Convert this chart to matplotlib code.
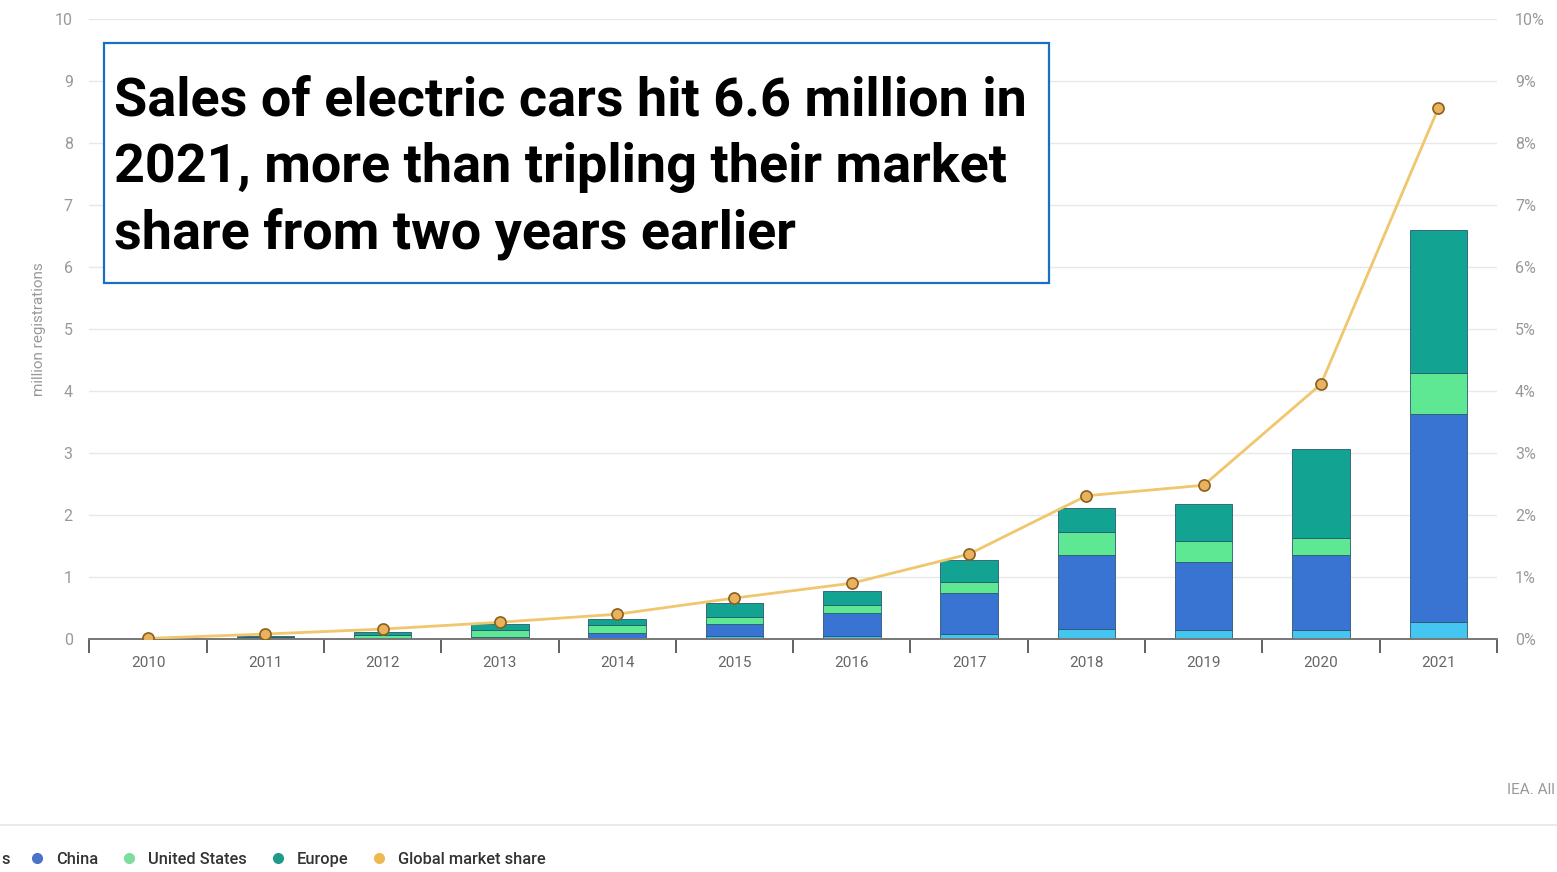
#Gráfica de ventas de autos eléctricos (IEA)
import matplotlib
matplotlib.use("Agg")
import matplotlib.pyplot as plt
from matplotlib.patches import Rectangle
from matplotlib.lines import Line2D
import numpy as np

#Datos
years = ["2010", "2011", "2012", "2013", "2014", "2015", "2016", "2017", "2018", "2019", "2020", "2021"]
others = [0.003, 0.01, 0.01, 0.02, 0.02, 0.05, 0.05, 0.08, 0.16, 0.15, 0.15, 0.27]
china = [0.001, 0.005, 0.01, 0.02, 0.08, 0.19, 0.37, 0.67, 1.19, 1.09, 1.20, 3.36]
usa = [0.001, 0.02, 0.05, 0.10, 0.12, 0.12, 0.13, 0.17, 0.38, 0.34, 0.28, 0.66]
europe = [0.001, 0.015, 0.04, 0.10, 0.10, 0.22, 0.23, 0.35, 0.38, 0.60, 1.43, 2.31]
share = [0.01, 0.08, 0.16, 0.27, 0.40, 0.66, 0.90, 1.37, 2.31, 2.48, 4.11, 8.56]

series_names = ["China", "United States", "Europe", "Global market share"]
series_colors = ["#45c6f0", "#3a74d2", "#5fe893", "#13a393"]
legend_colors = ["#4a72c8", "#7edc9c", "#1f9a8a", "#efb952"]
line_color = "#f0c66e"

plt.rcParams['font.family'] = ['Roboto', 'DejaVu Sans']

fig = plt.figure(figsize=(15.57, 8.72), dpi=100)
ax = fig.add_axes([0.0574, 0.2672, 0.904, 0.711])

x = np.arange(len(years))
bottom = np.zeros(len(years))
for vals, col in zip([others, china, usa, europe], series_colors):
	ax.bar(x, vals, width=0.49, bottom=bottom, color=col,
		   edgecolor="#2a5a70", linewidth=0.6, zorder=2)
	bottom += np.array(vals)

ax.set_xlim(-0.5, len(years) - 0.5)
ax.set_ylim(0, 10)
ax.set_yticks(range(0, 11))
ax.set_xticks(x)
ax.set_xticklabels(years)
ax.set_xticks(np.arange(-0.5, len(years), 1.0), minor=True)
ax.tick_params(axis='x', which='major', length=0, pad=12, labelsize=11, labelcolor="#666666")
ax.tick_params(axis='x', which='minor', length=10, width=1.3, color="#555555")
ax.tick_params(axis='y', length=0, pad=12, labelsize=11.5, labelcolor="#999999")
ax.grid(axis='y', color="#e8e8e8", linewidth=1, zorder=0)
ax.set_axisbelow(True)
for s in ["top", "right", "left"]:
	ax.spines[s].set_visible(False)
ax.spines["bottom"].set_color("#777777")
ax.spines["bottom"].set_linewidth(1.4)
ax.set_ylabel("million registrations", fontsize=11, color="#999999", labelpad=6)

#Eje derecho: participación de mercado
ax2 = ax.twinx()
ax2.set_ylim(0, 10)
ax2.set_yticks(range(0, 11))
ax2.set_yticklabels([str(i) + "%" for i in range(0, 11)])
ax2.tick_params(axis='y', length=0, pad=13, labelsize=11.5, labelcolor="#999999")
for s in ["top", "right", "left", "bottom"]:
	ax2.spines[s].set_visible(False)
ax2.plot(x, share, color=line_color, linewidth=2, marker='o', markersize=8,
		 markerfacecolor="#e9b25e", markeredgecolor="#8a5f1c", markeredgewidth=1.2, zorder=3)

#Cuadro de título
fig.add_artist(Rectangle((104 / 1557, 1 - 283 / 872), 945 / 1557, 240 / 872,
						 transform=fig.transFigure, facecolor="white",
						 edgecolor="#1b6fc2", linewidth=1.6, zorder=5))
title_lines = ["Sales of electric cars hit 6.6 million in",
			   "2021, more than tripling their market",
			   "share from two years earlier"]
textos = []
for i, t in enumerate(title_lines):
	textos.append(fig.text(114 / 1557, 1 - (116 + 66 * i) / 872, t, fontsize=42, fontweight='bold',
						   color="black", va='baseline', ha='left', zorder=6))
#Ajuste del tamaño para que la primera línea mida lo mismo que en la imagen
renderer = fig.canvas.get_renderer()
w = textos[0].get_window_extent(renderer).width
size = 42 * 913 / w
for t in textos:
	t.set_fontsize(size)

#Fuente y separador
fig.text(1507 / 1557, 1 - 790 / 872, "IEA. All", fontsize=11,
		 color="#999999", va='center', ha='left')
fig.add_artist(Line2D([0, 1], [1 - 825 / 872, 1 - 825 / 872], transform=fig.transFigure,
					  color="#e6e6e6", linewidth=1.2))

#Leyenda
fig.text(1 / 1557, 1 - 859 / 872, "s", fontsize=11.8, fontweight='medium', color="#333333",
		 va='center', ha='left')
handles = [Line2D([], [], linestyle='none', marker='o', markersize=7,
				  markerfacecolor=c, markeredgecolor=c) for c in legend_colors]
leg = fig.legend(handles, series_names, loc='center left', bbox_to_anchor=(32 / 1557, 1 - 859 / 872),
				 ncol=4, frameon=False, fontsize=11.8, handlelength=0.6, handletextpad=0.85,
				 columnspacing=1.6, borderpad=0, borderaxespad=0, labelcolor="#333333")
for t in leg.get_texts():
	t.set_fontweight('medium')

fig.savefig("out.png", dpi=100)
